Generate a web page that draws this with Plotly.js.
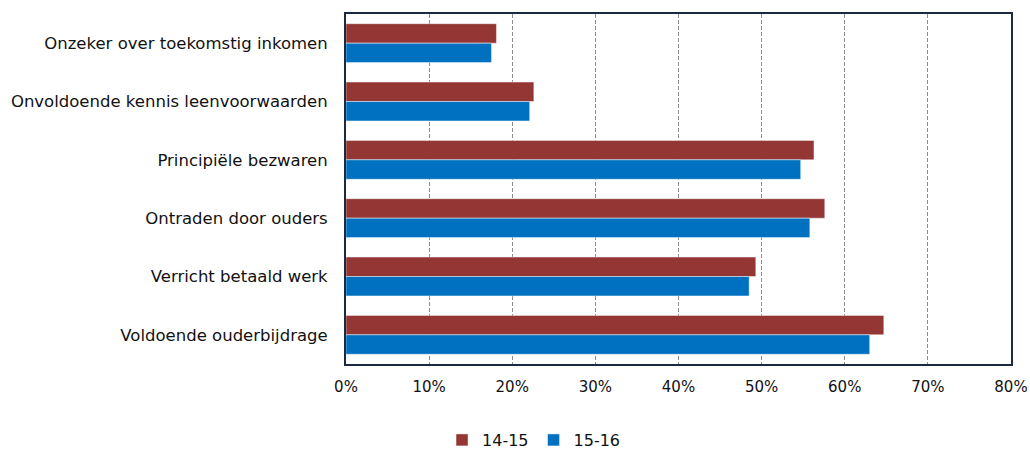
<!DOCTYPE html>
<html>
<head>
<meta charset="utf-8">
<script src="https://cdn.plot.ly/plotly-3.0.1.min.js"></script>
<style>html,body{margin:0;padding:0;background:#fff;}#chart{width:1030px;height:449px;}</style>
</head>
<body>
<div id="chart"></div>
<script>
const categories = [
  "Onzeker over toekomstig inkomen",
  "Onvoldoende kennis leenvoorwaarden",
  "Principiële bezwaren",
  "Ontraden door ouders",
  "Verricht betaald werk",
  "Voldoende ouderbijdrage"
];
const values1415 = [0.181, 0.226, 0.563, 0.576, 0.493, 0.647];
const values1516 = [0.175, 0.221, 0.547, 0.558, 0.485, 0.630];
const seriesNames = ["14-15", "15-16"];
const tickVals = [0, 0.1, 0.2, 0.3, 0.4, 0.5, 0.6, 0.7, 0.8];
const tickLabels = ["0%", "10%", "20%", "30%", "40%", "50%", "60%", "70%", "80%"];

const fontFam = "DejaVu Sans, sans-serif";
const traces = [
  {type: "bar", orientation: "h", name: seriesNames[0], y: categories, x: values1415,
   marker: {color: "#943634", line: {color: "rgba(255,255,255,0.45)", width: 1}}, hoverinfo: "none"},
  {type: "bar", orientation: "h", name: seriesNames[1], y: categories, x: values1516,
   marker: {color: "#0070C0", line: {color: "rgba(255,255,255,0.45)", width: 1}}, hoverinfo: "none"}
];
const layout = {
  width: 1030, height: 449,
  margin: {l: 346, r: 19, t: 14, b: 85, autoexpand: false},
  barmode: "group", bargap: 0.333, bargroupgap: 0,
  paper_bgcolor: "#fff", plot_bgcolor: "#fff",
  font: {family: fontFam, size: 16, color: "#111"},
  xaxis: {
    range: [0, 0.8], tickvals: tickVals, ticktext: tickLabels,
    showgrid: true, gridcolor: "#8c8c8c", gridwidth: 1, griddash: "4px,2px",
    showline: true, mirror: true, linecolor: "#1b2a41", linewidth: 2,
    zeroline: false, ticks: "", ticklabelstandoff: 8, automargin: false,
    tickfont: {family: fontFam, size: 15, color: "#111"}
  },
  yaxis: {
    autorange: "reversed", type: "category",
    showline: true, mirror: true, linecolor: "#1b2a41", linewidth: 2,
    showgrid: false, zeroline: false, ticks: "", ticklabelstandoff: 13, automargin: false,
    tickfont: {family: fontFam, size: 16.5, color: "#111"}
  },
  showlegend: true,
  legend: {orientation: "h", xref: "container", yref: "container", x: 0.518, xanchor: "center",
    y: 0.02, yanchor: "middle",
    font: {family: fontFam, size: 16, color: "#111"}, traceorder: "normal", itemwidth: 30}
};
Plotly.newPlot("chart", traces, layout, {staticPlot: true});
</script>
</body>
</html>
